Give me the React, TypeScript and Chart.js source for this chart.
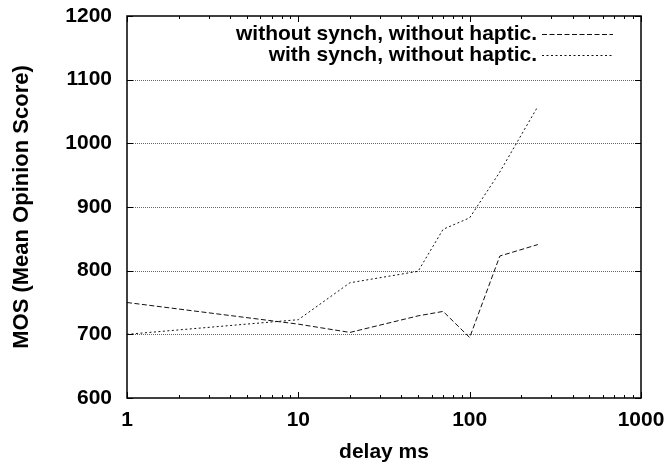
import React, { useEffect, useRef } from "react";
import { Chart, registerables } from "chart.js";

Chart.register(...registerables);

const delays = [1, 10, 20, 50, 70, 100, 150, 250];
const withoutSynch = [750, 716, 703, 729, 736, 695, 823, 841];
const withSynch = [700, 723, 781, 799, 865, 883, 955, 1058];
const seriesLabels = ["without synch, without haptic.", "with synch, without haptic."];
const xTicks = [1, 10, 100, 1000];
const yTicks = [600, 700, 800, 900, 1000, 1100, 1200];

const FONT = "Liberation Sans, Arial, Helvetica, sans-serif";

const framePlugin = {
  id: "frame",
  beforeDatasetsDraw(chart: any) {
    const { ctx, chartArea: a, scales } = chart;
    const y = scales.y;
    ctx.save();
    ctx.strokeStyle = "#666";
    ctx.lineWidth = 1;
    ctx.setLineDash([1, 1]);
    yTicks.forEach((v) => {
      if (v === 600 || v === 1200) return;
      const py = Math.round(y.getPixelForValue(v)) + 0.5;
      ctx.beginPath();
      ctx.moveTo(a.left, py);
      ctx.lineTo(a.right, py);
      ctx.stroke();
    });
    ctx.restore();
  },
  afterDraw(chart: any) {
    const { ctx, chartArea: a, scales } = chart;
    const x = scales.x;
    const y = scales.y;
    ctx.save();
    ctx.strokeStyle = "#000";
    ctx.lineWidth = 1.5;
    ctx.setLineDash([]);
    ctx.strokeRect(a.left, a.top, a.right - a.left, a.bottom - a.top);
    ctx.lineWidth = 1;
    const major = 6;
    const minor = 3;
    yTicks.forEach((v) => {
      const py = Math.round(y.getPixelForValue(v)) + 0.5;
      ctx.beginPath();
      ctx.moveTo(a.left, py);
      ctx.lineTo(a.left + major, py);
      ctx.moveTo(a.right, py);
      ctx.lineTo(a.right - major, py);
      ctx.stroke();
    });
    for (let d = 1; d < 1000; d *= 10) {
      for (let m = 1; m <= 10; m++) {
        const v = d * m;
        const len = m === 1 || m === 10 ? major : minor;
        const px = Math.round(x.getPixelForValue(v)) + 0.5;
        ctx.beginPath();
        ctx.moveTo(px, a.bottom);
        ctx.lineTo(px, a.bottom - len);
        ctx.moveTo(px, a.top);
        ctx.lineTo(px, a.top + len);
        ctx.stroke();
      }
    }
    const ds = chart.data.datasets;
    ctx.font = "bold 21px " + FONT;
    ctx.fillStyle = "#000";
    ctx.textAlign = "right";
    ctx.textBaseline = "middle";
    const rows = [a.top + 18, a.top + 39];
    ds.forEach((d: any, i: number) => {
      const ry = rows[i];
      ctx.fillText(d.label, 537, ry);
      ctx.strokeStyle = d.borderColor;
      ctx.lineWidth = 1;
      ctx.setLineDash(d.borderDash || []);
      ctx.beginPath();
      ctx.moveTo(542, Math.round(ry) + 0.5);
      ctx.lineTo(613, Math.round(ry) + 0.5);
      ctx.stroke();
    });
    ctx.restore();
  },
};

export default function App() {
  const ref = useRef<HTMLCanvasElement>(null);
  useEffect(() => {
    if (!ref.current) return;
    Chart.defaults.color = "#000";
    const chart = new Chart(ref.current, {
      type: "line",
      data: {
        datasets: [
          {
            label: seriesLabels[0],
            data: delays.map((d, i) => ({ x: d, y: withoutSynch[i] })),
            borderColor: "#111",
            borderWidth: 1,
            borderDash: [5, 2.5],
            pointRadius: 0,
            fill: false,
            tension: 0,
          },
          {
            label: seriesLabels[1],
            data: delays.map((d, i) => ({ x: d, y: withSynch[i] })),
            borderColor: "#111",
            borderWidth: 1,
            borderDash: [2, 2.5],
            pointRadius: 0,
            fill: false,
            tension: 0,
          },
        ],
      },
      options: {
        animation: false,
        responsive: false,
        maintainAspectRatio: false,
        layout: { padding: { top: 16, right: 30, left: 0, bottom: 0 } },
        plugins: { legend: { display: false }, tooltip: { enabled: false } },
        scales: {
          x: {
            type: "logarithmic",
            min: 1,
            max: 1000,
            afterBuildTicks: (s: any) => {
              s.ticks = xTicks.map((v) => ({ value: v }));
            },
            afterFit: (s: any) => {
              s.height = 69;
              s.paddingLeft = 0;
              s.paddingRight = 0;
            },
            grid: { display: false, drawTicks: false },
            border: { display: false },
            ticks: {
              padding: 10,
              maxRotation: 0,
              autoSkip: false,
              font: { family: FONT, size: 21, weight: "bold" },
              callback: (v: any) => String(v),
            },
            title: {
              display: true,
              text: "delay ms",
              font: { family: FONT, size: 21, weight: "bold" },
              padding: { top: 0, bottom: 2 },
            },
          },
          y: {
            type: "linear",
            min: 600,
            max: 1200,
            afterBuildTicks: (s: any) => {
              s.ticks = yTicks.map((v) => ({ value: v }));
            },
            afterFit: (s: any) => {
              s.width = 127;
              s.paddingTop = 0;
              s.paddingBottom = 0;
            },
            grid: { display: false, drawTicks: false },
            border: { display: false },
            ticks: {
              padding: 15,
              autoSkip: false,
              font: { family: FONT, size: 21, weight: "bold" },
              callback: (v: any) => String(v),
            },
            title: {
              display: true,
              text: "MOS (Mean Opinion Score)",
              font: { family: FONT, size: 22, weight: "bold" },
              padding: { top: 9, bottom: 0 },
            },
          },
        },
      },
      plugins: [framePlugin],
    });
    return () => chart.destroy();
  }, []);
  return (
    <div style={{ position: "absolute", left: 0, top: 0, width: 671, height: 467, background: "#fff" }}>
      <canvas ref={ref} width={671} height={467} style={{ display: "block" }} />
    </div>
  );
}
